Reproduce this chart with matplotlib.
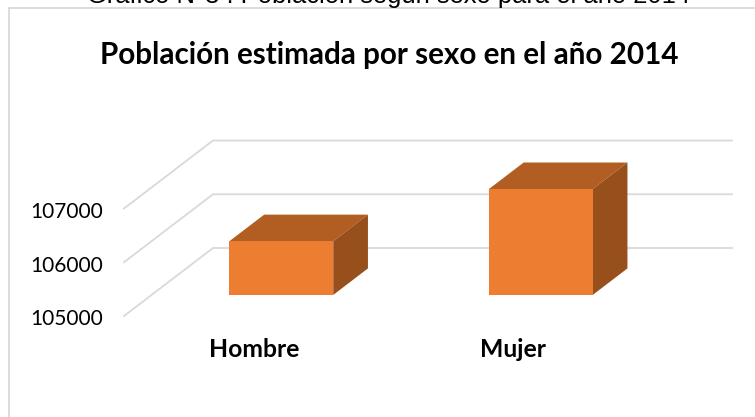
import matplotlib
matplotlib.use('Agg')
import matplotlib.pyplot as plt
from matplotlib.patches import Polygon
from matplotlib.transforms import ScaledTranslation

W, H = 755, 417

categories = ['Hombre', 'Mujer']
values = [106000, 106970]
y_ticks = [105000, 106000, 107000]

suptitle = 'Gráfico N°3 : Población según sexo para el año 2014'
title = 'Población estimada por sexo en el año 2014'

front_col = '#ED7D31'
top_col = '#B25E22'
side_col = '#974F1C'
grid_col = '#D9D9D9'


def depth(x, y, f):
    # move a point from the front of the floor towards the back wall
    return x + f * back_dx, y + f * back_dy


fig = plt.figure(figsize=(W / 100, H / 100), dpi=100)
plt.rcParams['font.family'] = ['Lato', 'DejaVu Sans']

# front plane of the 3d box, 124..643 px wide, 316..208 px high
ax = fig.add_axes([124 / W, 1 - 316 / H, (643 - 124) / W, (316 - 208.5) / H])
ax.set_xlim(-0.5, 1.5)
ax.set_ylim(105000, 107000)
for s in ax.spines.values():
    s.set_visible(False)
ax.patch.set_alpha(0)

back_dx = 89 / 519 * 2
back_dy = 68 / 107.5 * 2000
bar_w = 0.4
f1, f2 = 0.31, 0.7

for t in y_ticks:
    bx, by = depth(-0.5, t, 1)
    ax.plot([-0.5, bx, 1.5 + back_dx], [t, by, by], color=grid_col, lw=1.3, clip_on=False, zorder=1)

for i, v in enumerate(values):
    x0, x1 = i - bar_w / 2, i + bar_w / 2
    base = 105000
    a = depth(x0, base, f1)
    b = depth(x1, base, f1)
    c = depth(x1, v, f1)
    d = depth(x0, v, f1)
    e = depth(x0, v, f2)
    g = depth(x1, v, f2)
    k = depth(x1, base, f2)
    ax.add_patch(Polygon([d, e, g, c], facecolor=top_col, edgecolor='none', clip_on=False, zorder=3))
    ax.add_patch(Polygon([b, c, g, k], facecolor=side_col, edgecolor='none', clip_on=False, zorder=3))
    ax.add_patch(Polygon([a, b, c, d], facecolor=front_col, edgecolor='none', clip_on=False, zorder=4))

ax.set_yticks(y_ticks)
ax.set_yticklabels([str(t) for t in y_ticks], fontsize=15, color='black')
ax.set_xticks(range(len(categories)))
ax.set_xticklabels(categories, fontsize=17.8, fontweight='bold', color='black')
ax.tick_params(axis='both', length=0)
ax.tick_params(axis='y', pad=15)
ax.tick_params(axis='x', pad=16)

# tick labels sit a little under the wall ends
down = ScaledTranslation(0, -1 / 72, fig.dpi_scale_trans)
for lab in ax.get_yticklabels():
    lab.set_transform(lab.get_transform() + down)

# chart frame, runs off the right and bottom of the crop
fig.add_artist(plt.Line2D([9 / W, 9 / W], [0, 1 - 7.5 / H], color=grid_col, lw=1.3))
fig.add_artist(plt.Line2D([9 / W, 1], [1 - 7.5 / H, 1 - 7.5 / H], color=grid_col, lw=1.3))

# caption above the chart is cut by the top of the picture in the reference
fig.text(389 / W, 1 - 3 / H, suptitle, ha='center', va='baseline', fontsize=18.4,
         family=['Liberation Sans', 'DejaVu Sans'], color='black')
fig.text(389 / W, 1 - 55 / H, title, ha='center', va='center', fontsize=21.3, fontweight='bold', color='black')

fig.savefig('out.png', dpi=100)
